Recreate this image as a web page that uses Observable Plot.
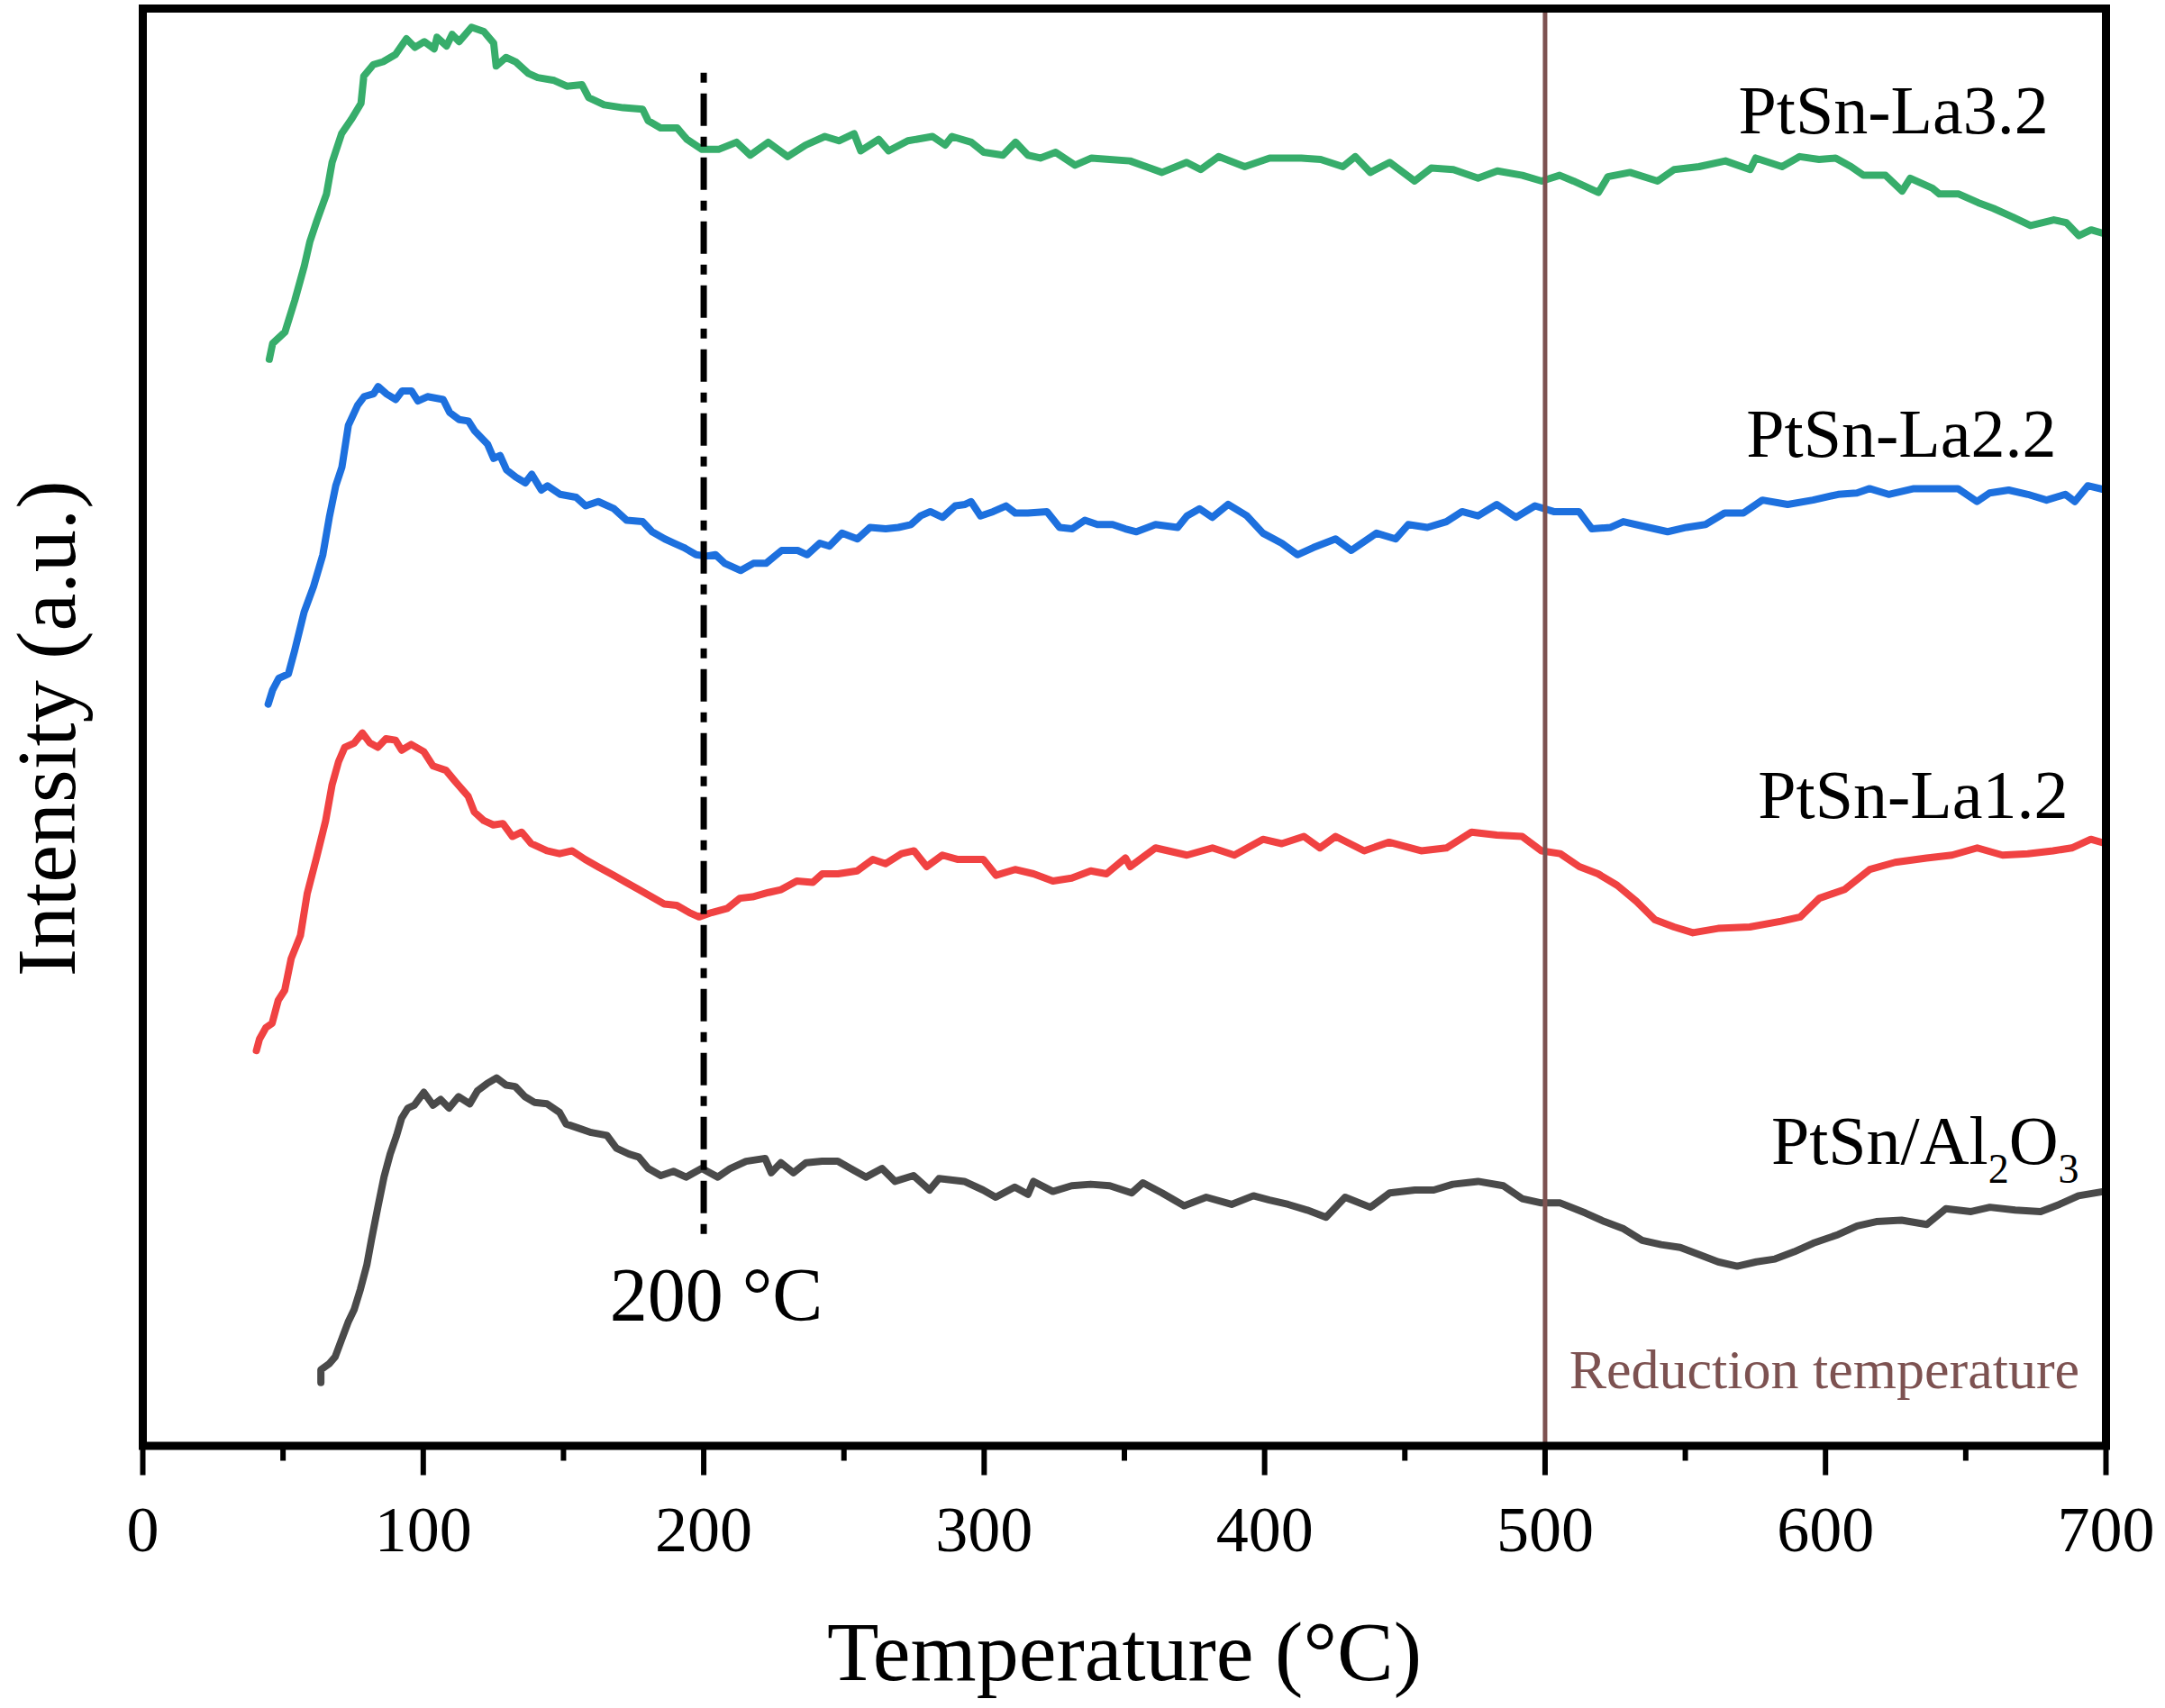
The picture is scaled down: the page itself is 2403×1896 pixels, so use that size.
<!DOCTYPE html>
<html>
<head>
<meta charset="utf-8">
<script src="https://cdn.jsdelivr.net/npm/d3@7"></script>
<script src="https://cdn.jsdelivr.net/npm/@observablehq/plot@0.6"></script>
<style>
  html, body { margin: 0; padding: 0; background: #fff; }
</style>
</head>
<body>
<div id="chart"></div>
<script>
// Temperature (°C) vs. intensity (a.u., offset stacked) — [T, I]
const PtSnLa32 = [[45.1,75.6],[46.3,76.7],[50.7,77.5],[54.2,79.7],[57.6,82.1],[59.6,83.8],[62.0,85.2],[65.5,87.1],[67.5,89.3],[70.9,91.3],[74.4,92.3],[77.8,93.4],[78.8,95.3],[82.2,96.1],[85.7,96.3],[90.1,96.8],[94.0,97.9],[97.0,97.3],[100.4,97.7],[103.9,97.2],[104.9,98.0],[108.3,97.4],[110.3,98.2],[112.8,97.7],[117.2,98.7],[121.6,98.4],[125.1,97.6],[126.0,96.0],[129.5,96.6],[132.9,96.3],[137.4,95.5],[140.8,95.2],[146.7,95.0],[151.2,94.6],[156.6,94.7],[159.0,93.8],[164.5,93.3],[171.3,93.1],[178.2,93.0],[180.2,92.2],[184.6,91.7],[190.5,91.7],[194.0,90.9],[199.4,90.2],[205.3,90.2],[211.7,90.7],[216.6,89.8],[223.0,90.7],[229.9,89.7],[236.3,90.5],[243.2,91.1],[248.2,90.8],[253.6,91.3],[256.0,90.1],[262.4,90.9],[265.9,90.1],[272.8,90.8],[281.6,91.1],[286.1,90.5],[288.5,91.1],[295.4,90.7],[299.9,90.0],[306.7,89.8],[311.2,90.7],[315.6,89.8],[320.0,89.6],[325.5,90.0],[332.4,89.1],[338.3,89.6],[344.7,89.5],[352.0,89.4],[363.4,88.6],[372.2,89.3],[377.2,88.8],[383.6,89.7],[392.9,89.0],[401.8,89.6],[413.1,89.6],[420.0,89.5],[427.9,89.0],[432.3,89.7],[437.7,88.6],[444.6,89.3],[453.5,88.0],[459.4,88.9],[467.3,88.8],[476.1,88.2],[483.0,88.7],[491.9,88.4],[498.8,88.0],[505.2,88.4],[510.1,88.0],[519.0,87.2],[522.4,88.3],[530.3,88.6],[540.1,88.0],[546.0,88.8],[554.9,89.0],[564.3,89.4],[573.1,88.8],[575.1,89.6],[584.5,89.0],[590.8,89.7],[597.7,89.5],[603.6,89.6],[609.1,89.0],[613.5,88.4],[621.4,88.4],[627.3,87.3],[630.2,88.2],[638.1,87.5],[640.6,87.1],[647.5,87.1],[654.4,86.5],[659.8,86.1],[666.7,85.5],[673.1,84.9],[681.4,85.3],[685.9,85.1],[690.3,84.2],[694.7,84.6],[700.0,84.3]];

const PtSnLa22 = [[44.7,51.6],[46.3,52.6],[48.5,53.4],[51.9,53.7],[54.1,55.3],[57.5,58.0],[60.9,59.8],[64.2,62.0],[66.5,64.6],[68.8,66.8],[71.0,68.1],[73.3,71.0],[76.6,72.4],[78.9,73.0],[82.3,73.2],[83.9,73.7],[86.8,73.2],[90.2,72.8],[92.5,73.4],[95.8,73.4],[98.1,72.7],[101.5,73.0],[107.1,72.8],[109.4,71.9],[112.8,71.4],[116.1,71.3],[118.4,70.6],[122.9,69.7],[125.1,68.7],[127.4,68.9],[129.7,67.9],[133.0,67.4],[136.4,67.0],[138.7,67.6],[142.1,66.5],[144.3,66.8],[148.8,66.2],[154.5,66.0],[157.9,65.4],[162.4,65.7],[168.0,65.2],[172.5,64.4],[178.2,64.3],[181.6,63.6],[186.1,63.1],[189.5,62.8],[192.9,62.5],[197.3,62.0],[200.8,61.9],[204.2,62.0],[207.5,61.4],[213.2,60.9],[217.7,61.4],[222.2,61.4],[227.8,62.3],[233.5,62.3],[236.9,62.0],[241.4,62.8],[244.8,62.6],[249.3,63.5],[254.8,63.1],[259.3,63.9],[264.9,63.8],[269.4,63.9],[273.9,64.1],[277.3,64.7],[280.8,65.0],[285.2,64.6],[289.7,65.4],[293.2,65.5],[295.3,65.7],[298.7,64.7],[303.2,65.0],[307.8,65.4],[311.1,64.9],[315.6,64.9],[322.4,65.0],[326.9,63.9],[331.4,63.8],[335.9,64.4],[340.4,64.1],[345.8,64.1],[350.3,63.8],[354.3,63.6],[361.1,64.1],[369.0,63.9],[372.3,64.7],[376.8,65.2],[381.3,64.6],[387.0,65.5],[393.7,64.7],[399.4,63.5],[406.1,62.8],[411.7,62.0],[417.4,62.5],[425.3,63.1],[430.9,62.3],[439.9,63.5],[446.7,63.1],[451.2,64.1],[458.0,63.9],[464.8,64.3],[470.4,65.0],[476.1,64.7],[482.8,65.5],[489.6,64.6],[496.4,65.4],[503.1,65.0],[512.1,65.0],[516.7,63.8],[523.4,63.9],[527.9,64.3],[536.9,63.9],[543.7,63.6],[550.4,63.9],[557.2,64.1],[564.0,64.9],[570.7,64.9],[577.5,65.8],[586.5,65.5],[595.5,65.8],[604.5,66.2],[611.2,66.3],[615.7,66.6],[622.5,66.2],[631.5,66.6],[640.5,66.6],[647.2,66.6],[654.0,65.7],[658.5,66.3],[665.3,66.5],[672.1,66.2],[678.8,65.8],[685.5,66.2],[688.9,65.7],[693.5,66.8],[700.0,66.5]];

const PtSnLa12 = [[40.5,27.5],[41.6,28.3],[43.9,29.1],[46.1,29.4],[48.3,31.0],[50.6,31.7],[52.9,33.9],[56.2,35.5],[58.6,38.4],[61.9,40.9],[65.2,43.5],[67.5,46.0],[69.8,47.6],[72.0,48.6],[75.4,48.9],[78.3,49.6],[81.0,48.9],[83.8,48.6],[86.7,49.2],[90.1,49.1],[92.3,48.4],[95.7,48.8],[100.2,48.3],[103.5,47.3],[108.1,47.0],[111.5,46.2],[116.0,45.2],[118.2,44.1],[121.6,43.5],[125.0,43.2],[128.4,43.3],[131.8,42.4],[135.1,42.7],[138.5,41.9],[144.1,41.4],[148.6,41.2],[153.1,41.4],[157.7,40.8],[162.2,40.3],[167.8,39.7],[172.3,39.2],[176.9,38.7],[181.4,38.2],[185.9,37.7],[190.4,37.6],[194.9,37.1],[198.3,36.8],[202.8,37.1],[208.4,37.4],[212.9,38.1],[217.4,38.2],[223.1,38.5],[227.6,38.7],[233.2,39.3],[238.9,39.2],[242.3,39.8],[247.9,39.8],[254.7,40.0],[260.3,40.8],[264.8,40.5],[270.5,41.2],[275.0,41.4],[279.5,40.3],[285.1,41.1],[290.7,40.8],[299.7,40.8],[304.2,39.7],[311.0,40.1],[317.6,39.8],[324.5,39.3],[331.2,39.5],[338.0,40.0],[343.6,39.8],[350.4,40.9],[352.1,40.3],[361.1,41.6],[372.3,41.1],[381.4,41.6],[389.2,41.1],[399.4,42.2],[406.1,41.9],[414.0,42.4],[419.7,41.6],[425.3,42.4],[435.5,41.4],[444.4,42.0],[455.8,41.4],[464.8,41.6],[473.8,42.7],[482.8,42.5],[491.8,42.4],[498.7,41.4],[505.4,41.2],[512.2,40.3],[518.9,39.8],[525.7,39.0],[532.5,37.9],[539.2,36.6],[546.0,36.1],[552.7,35.7],[561.7,36.0],[573.0,36.1],[584.2,36.5],[591.0,36.8],[597.8,38.1],[606.7,38.7],[615.8,40.1],[624.8,40.6],[636.0,40.9],[645.1,41.1],[654.1,41.6],[663.1,41.1],[672.1,41.2],[681.1,41.4],[687.8,41.6],[694.6,42.2],[700.0,41.9]];

const PtSnAl2O3 = [[63.5,4.4],[63.5,5.3],[66.4,5.7],[68.6,6.2],[70.9,7.4],[73.2,8.6],[75.4,9.5],[77.6,10.9],[79.9,12.6],[81.5,14.3],[83.8,16.6],[86.0,18.7],[88.2,20.3],[90.5,21.6],[92.3,22.8],[94.5,23.5],[96.8,23.7],[100.2,24.6],[103.5,23.7],[106.2,24.1],[109.2,23.5],[112.6,24.3],[116.6,23.8],[119.3,24.7],[122.7,25.2],[126.1,25.6],[129.5,25.1],[132.8,25.0],[136.2,24.3],[139.6,23.9],[144.1,23.8],[148.6,23.2],[150.9,22.4],[155.4,22.1],[159.9,21.8],[165.5,21.6],[168.9,20.7],[173.4,20.3],[176.8,20.1],[180.2,19.3],[184.7,18.8],[189.2,19.1],[193.7,18.7],[199.3,19.3],[205.0,18.7],[209.5,19.3],[215.1,19.8],[221.9,20.0],[224.1,19.0],[227.5,19.7],[232.0,19.0],[236.5,19.7],[242.2,19.8],[247.8,19.8],[252.3,19.3],[257.9,18.7],[263.6,19.3],[268.2,18.4],[274.8,18.8],[280.5,17.8],[283.9,18.6],[292.9,18.4],[299.6,17.8],[304.1,17.3],[310.9,18.0],[315.6,17.5],[317.6,18.4],[324.5,17.7],[331.2,18.1],[338.0,18.2],[344.8,18.1],[352.6,17.6],[356.6,18.3],[363.4,17.6],[371.3,16.7],[379.2,17.3],[388.2,16.8],[396.0,17.4],[401.7,17.1],[408.4,16.8],[415.2,16.4],[421.9,15.9],[428.7,17.3],[437.7,16.6],[444.6,17.6],[453.6,17.8],[460.3,17.8],[467.1,18.2],[476.1,18.4],[485.1,18.1],[491.8,17.2],[498.7,16.9],[505.4,16.9],[514.4,16.2],[521.2,15.6],[528.0,15.1],[534.6,14.3],[541.4,14.0],[548.2,13.8],[555.0,13.3],[561.7,12.8],[568.5,12.5],[575.3,12.8],[582.0,13.0],[588.8,13.5],[595.6,14.1],[604.5,14.7],[611.3,15.3],[618.1,15.6],[627.1,15.7],[636.1,15.4],[642.9,16.5],[651.9,16.3],[658.6,16.6],[667.6,16.4],[676.7,16.3],[683.4,16.8],[690.2,17.4],[699.2,17.7]];

const seriesNames = ["PtSn-La3.2", "PtSn-La2.2", "PtSn-La1.2", "PtSn/Al2O3"];
const xTicks = [0, 100, 200, 300, 400, 500, 600, 700];
const xMinorTicks = [50, 150, 250, 350, 450, 550, 650];
const markerTemps = [200, 500];
const xTitle = "Temperature (°C)";
const yTitle = "Intensity (a.u.)";
const markerLabel = "200 °C";
const reductionLabel = "Reduction temperature";

const FONT = "'Liberation Serif', 'Times New Roman', Times, serif";
const BROWN = "#7d5251";
const LW = 8;
const px = d => d[0], py = d => d[1];

const chart = Plot.plot({
  width: 2403,
  height: 1896,
  marginLeft: 158,
  marginRight: 66,
  marginTop: 9,
  marginBottom: 291.5,
  x: {domain: [0, 700]},
  y: {domain: [0, 100], axis: null},
  style: {fontFamily: FONT, background: "white", color: "black"},
  marks: [
    Plot.line(PtSnLa32, {x: px, y: py, stroke: "#37ad6b", strokeWidth: LW}),
    Plot.line(PtSnLa22, {x: px, y: py, stroke: "#1d70de", strokeWidth: LW}),
    Plot.line(PtSnLa12, {x: px, y: py, stroke: "#f04242", strokeWidth: LW}),
    Plot.line(PtSnAl2O3, {x: px, y: py, stroke: "#4a4a4a", strokeWidth: LW}),
    Plot.ruleX([markerTemps[0]], {y1: 95.5, y2: 14.4, stroke: "black", strokeWidth: 7,
      strokeDasharray: "36,12,11,12", strokeDashoffset: 48}),
    Plot.ruleX([markerTemps[1]], {stroke: BROWN, strokeWidth: 5}),
    Plot.frame({stroke: "black", strokeWidth: 9}),
    Plot.axisX(xTicks, {tickSize: 33, tickPadding: 33, fontSize: 72, strokeWidth: 6,
      label: null, tickFormat: d => String(d)}),
    Plot.axisX(xMinorTicks, {tickSize: 17, strokeWidth: 6, label: null, tickFormat: () => ""}),
    // series labels
    Plot.text([seriesNames[0]], {x: 679.5, y: 91.3, text: d => d, textAnchor: "end", lineAnchor: "bottom", fontSize: 76}),
    Plot.text([seriesNames[1]], {x: 682.3, y: 68.8, text: d => d, textAnchor: "end", lineAnchor: "bottom", fontSize: 76}),
    Plot.text([seriesNames[2]], {x: 686.5, y: 43.7, text: d => d, textAnchor: "end", lineAnchor: "bottom", fontSize: 76}),
    Plot.text([seriesNames[3]], {x: 690.4, y: 19.6, text: d => d, textAnchor: "end", lineAnchor: "bottom", fontSize: 76}),
    Plot.text([markerLabel], {x: 204.5, y: 8.74, text: d => d, textAnchor: "middle", lineAnchor: "bottom", fontSize: 84}),
    Plot.text([reductionLabel], {x: 508.6, y: 4.04, text: d => d, textAnchor: "start", lineAnchor: "bottom", fontSize: 62, fill: BROWN}),
    // axis titles
    Plot.text([xTitle], {x: 350, frameAnchor: "bottom", dy: 259.5, text: d => d, textAnchor: "middle", lineAnchor: "bottom", fontSize: 94}),
    Plot.text([yTitle], {y: 49.9, frameAnchor: "left", dx: -76, rotate: -90, text: d => d, textAnchor: "middle", lineAnchor: "bottom", fontSize: 94})
  ]
});

// subscripts for Al2O3
chart.querySelectorAll("text").forEach(t => {
  if (t.textContent === "PtSn/Al2O3") {
    t.textContent = "";
    const parts = [["PtSn/Al", 0, null], ["2", 21, 46], ["O", -21, null], ["3", 21, 46]];
    parts.forEach(([s, dy, fs]) => {
      const ts = document.createElementNS("http://www.w3.org/2000/svg", "tspan");
      ts.textContent = s;
      if (dy) ts.setAttribute("dy", dy);
      if (fs) ts.setAttribute("font-size", fs);
      t.appendChild(ts);
    });
  }
});

document.getElementById("chart").appendChild(chart);
</script>
</body>
</html>
